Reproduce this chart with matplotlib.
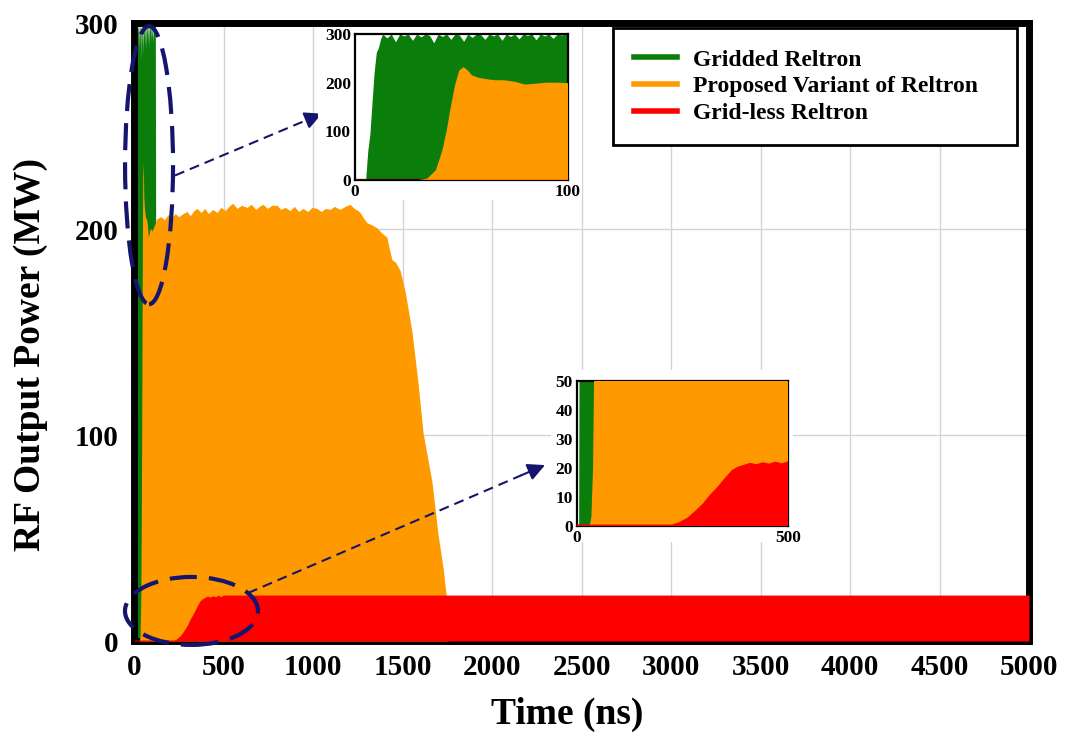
"""RF output power of the three Reltron configurations over 5 us."""
import matplotlib

matplotlib.use("Agg")
import matplotlib.pyplot as plt
from matplotlib.patches import Ellipse, Rectangle

plt.rcParams["font.family"] = "serif"
plt.rcParams["font.serif"] = ["Liberation Serif", "DejaVu Serif"]
plt.rcParams["font.weight"] = "bold"
plt.rcParams["axes.labelweight"] = "bold"

GREEN = "#0b7d0b"
ORANGE = "#ff9900"
RED = "#ff0000"
NAVY = "#15156e"

# Gridded Reltron: envelope of RF output power (ns, MW)
gridded_t = [0, 5, 6, 7, 8, 9, 10, 11, 12, 13, 15, 17, 19, 21, 23, 25, 27, 29, 31,
             33, 35, 37, 39, 41, 43, 45, 47, 49, 51, 53, 55, 57, 59, 61, 63, 65,
             67, 69, 71, 73, 75, 77, 79, 81, 83, 85, 87, 89, 91, 93, 95, 97, 99,
             101, 104, 107, 110, 113, 116, 119, 121, 123]
gridded_p = [0, 0, 60, 95, 160, 222, 262, 272, 290, 300, 292, 300, 284, 300, 296,
             300, 287, 300, 294, 300, 297, 282, 300, 295, 300, 289, 300, 298, 285,
             300, 293, 300, 299, 289, 300, 296, 300, 287, 300, 295, 300, 290, 300,
             297, 300, 288, 300, 296, 300, 291, 300, 298, 300, 293, 300, 290, 300,
             296, 300, 300, 205, 0]

# Proposed variant of Reltron
variant_t = [0, 30, 34, 38, 41, 43, 45, 47, 49, 51, 53, 55, 58, 62, 66, 70, 75, 80,
             85, 90, 95, 100, 110, 128, 150, 170, 190, 210, 230, 250, 274, 295, 315,
             335, 352, 375, 395, 415, 440, 464, 485, 510, 536, 553, 575, 600, 631,
             655, 680, 700, 721, 745, 770, 799, 820, 845, 872, 895, 920, 944, 970,
             995, 1022, 1045, 1070, 1095, 1120, 1150, 1180, 1207, 1230, 1250, 1263,
             1285, 1302, 1330, 1358, 1385, 1413, 1425, 1441, 1460, 1486, 1514, 1553,
             1587, 1615, 1665, 1698, 1726, 1743, 1749, 1752, 5000]
variant_p = [0, 0, 3, 20, 60, 100, 150, 195, 225, 232, 225, 215, 210, 207, 205, 205,
             202, 196, 198, 200, 200, 199, 201, 205, 206, 204.5, 207, 205.5, 207.5,
             206, 207.5, 208.5, 206.5, 209, 210, 208, 210, 207.5, 209.5, 208, 210.5,
             209, 211.5, 212.5, 210, 211.5, 210.5, 212, 209.5, 211, 212, 210, 211.5,
             211.5, 209.5, 210.5, 209, 211, 208.5, 210, 208.5, 210.5, 210, 208.5,
             210, 209.5, 211, 209.5, 211, 212, 210, 209, 208, 205, 203, 202, 200.5,
             198, 196, 191, 185, 184, 180, 170, 150, 125, 101, 77, 52, 36, 23, 8, 0, 0]

# Grid-less Reltron
gridless_t = [0, 225, 240, 261, 280, 299, 315, 332, 350, 367, 380, 393, 410, 425,
              440, 455, 470, 485, 500, 5000]
gridless_p = [0.5, 0.5, 1.2, 2.8, 5.2, 7.9, 10.8, 13.4, 16.5, 19.3, 20.4, 21.0, 21.8,
              21.3, 22.0, 21.5, 22.2, 21.6, 22.3, 22.3]

labels = ["Gridded Reltron", "Proposed Variant of Reltron", "Grid-less Reltron"]
x_ticks = list(range(0, 5001, 500))
y_ticks = [0, 100, 200, 300]


def draw_series(ax):
    ax.fill_between(gridded_t, 0, gridded_p, color=GREEN, lw=0, zorder=2)
    ax.fill_between(variant_t, 0, variant_p, color=ORANGE, lw=0, zorder=3)
    ax.fill_between(gridless_t, 0, gridless_p, color=RED, lw=0, zorder=4)


fig = plt.figure(figsize=(10.67, 7.33), dpi=100)
ax = fig.add_axes([0.1256, 0.1255, 0.8388, 0.8431])
draw_series(ax)
ax.set_xlim(0, 5000)
ax.set_ylim(0, 300)
ax.set_xticks(x_ticks)
ax.set_yticks(y_ticks)
ax.tick_params(axis="both", length=0, labelsize=21)
ax.tick_params(axis="x", pad=9)
ax.tick_params(axis="y", pad=11)
ax.grid(True, color="#d4d4d4", lw=1.0)
ax.set_axisbelow(True)
for sp in ax.spines.values():
    sp.set_linewidth(5)
ax.set_xlabel("Time (ns)", fontsize=27)
ax.set_ylabel("RF Output Power (MW)", fontsize=27)
ax.xaxis.set_label_coords(0.484, -0.090)
ax.yaxis.set_label_coords(-0.096, 0.463)

handles = [plt.Line2D([], [], color=c, lw=4) for c in (GREEN, ORANGE, RED)]
leg = ax.legend(handles, labels, loc="upper left", mode="expand",
                bbox_to_anchor=(0.535, 0.807, 0.452, 0.185), borderaxespad=0,
                fontsize=17, frameon=True, fancybox=False, framealpha=1,
                borderpad=0.9, labelspacing=0.22, handlelength=1.8,
                handletextpad=0.7)
leg.get_frame().set_edgecolor("black")
leg.get_frame().set_linewidth(2)
leg.set_zorder(10)

# dashed callouts linking the zoomed regions to their insets
ax.add_patch(Ellipse((84, 231), 268, 135, fill=False, ec=NAVY, lw=3,
                     ls=(0, (6.5, 2.9)), clip_on=False, zorder=6))
ax.add_patch(Ellipse((321, 14.6), 743, 33, fill=False, ec=NAVY, lw=3,
                     ls=(0, (6.5, 2.9)), clip_on=False, zorder=6))
for (x0, y0), (x1, y1) in [((229, 226), (1050, 256)), ((637, 23.3), (2296, 85.4))]:
    fx, fy = x0 + 0.92 * (x1 - x0), y0 + 0.92 * (y1 - y0)
    ax.plot([x0, fx], [y0, fy], color=NAVY, lw=1.5, ls=(0, (4.8, 2.9)),
            zorder=6, clip_on=False)
    ax.annotate("", xy=(x1, y1), xytext=(fx, fy),
                arrowprops=dict(arrowstyle="-|>", color=NAVY, lw=1.5,
                                mutation_scale=26, shrinkA=0, shrinkB=0),
                zorder=6)

# white backing for the insets
for x, y, w, h in [(318, 27, 264, 173), (551, 370, 242, 172)]:
    fig.patches.append(Rectangle((x / 1067, 1 - (y + h) / 733), w / 1067, h / 733,
                                 transform=fig.transFigure, fc="white", ec="none",
                                 zorder=1))

ins1 = fig.add_axes([0.3327, 0.7544, 0.1996, 0.1992], zorder=3)
draw_series(ins1)
ins1.set_xlim(0, 100)
ins1.set_ylim(0, 300)
ins1.set_xticks([0, 100])
ins1.set_yticks([0, 100, 200, 300])

ins2 = fig.add_axes([0.5408, 0.2824, 0.1978, 0.1978], zorder=3)
draw_series(ins2)
ins2.set_xlim(0, 500)
ins2.set_ylim(0, 50)
ins2.set_xticks([0, 500])
ins2.set_yticks([0, 10, 20, 30, 40, 50])

for ia in (ins1, ins2):
    ia.set_facecolor("white")
    ia.tick_params(length=0, labelsize=12.5, pad=3)
    for sp in ia.spines.values():
        sp.set_linewidth(1.6)

fig.savefig("out.png", dpi=100)
